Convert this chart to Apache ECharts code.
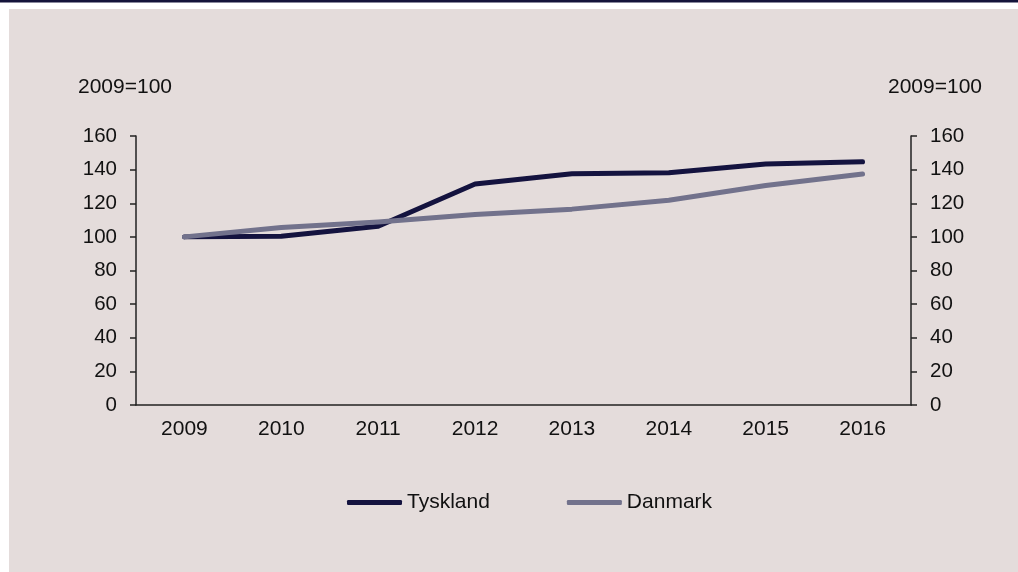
<!DOCTYPE html>
<html>
<head>
<meta charset="utf-8">
<script src="https://cdn.jsdelivr.net/npm/echarts@6/dist/echarts.min.js"></script>
<style>
html,body{margin:0;padding:0;background:#ffffff;}
#chart{width:1018px;height:572px;}
</style>
</head>
<body>
<div id="chart"></div>
<script>
const categories = ['2009','2010','2011','2012','2013','2014','2015','2016'];
const tyskland = [100, 100.4, 106.3, 131.5, 137.6, 138.2, 143.3, 144.7];
const danmark = [100, 105.6, 108.9, 113.3, 116.5, 121.8, 130.6, 137.4];
const seriesNames = ['Tyskland', 'Danmark'];
const unitLabel = '2009=100';

const txt = '#111111';
const font = 'Liberation Sans, Arial, Helvetica, sans-serif';
const chart = echarts.init(document.getElementById('chart'));
chart.setOption({
  animation: false,
  backgroundColor: '#ffffff',
  textStyle: {fontFamily: font},
  graphic: [
    {type: 'rect', z: -10, shape: {x: 0, y: 0, width: 1018, height: 2.5}, style: {fill: '#14133a'}},
    {type: 'rect', z: -10, shape: {x: 9, y: 9, width: 1009, height: 563}, style: {fill: '#e4dcdb'}},
    {type: 'text', left: 78, top: 77, style: {text: unitLabel, fill: txt, font: '21px ' + font}},
    {type: 'text', left: 888, top: 77, style: {text: unitLabel, fill: txt, font: '21px ' + font}}
  ],
  grid: {left: 136, right: 107, top: 136, bottom: 167},
  legend: {
    left: 347, top: 492, padding: 0,
    itemWidth: 55, itemHeight: 5, itemGap: 77,
    icon: 'roundRect',
    textStyle: {fontSize: 21, color: txt, fontFamily: font},
    data: seriesNames
  },
  xAxis: {
    type: 'category',
    data: categories,
    boundaryGap: true,
    axisLine: {lineStyle: {color: '#222222', width: 1.5}},
    axisTick: {show: false},
    axisLabel: {color: txt, fontSize: 21, margin: 14, fontFamily: font}
  },
  yAxis: [
    {
      type: 'value', min: 0, max: 160, interval: 20, position: 'left',
      axisLine: {show: true, lineStyle: {color: '#222222', width: 1.5}},
      axisTick: {show: true, length: 6, lineStyle: {color: '#222222', width: 1.5}},
      axisLabel: {color: txt, fontSize: 20.5, margin: 19, fontFamily: font},
      splitLine: {show: false}
    },
    {
      type: 'value', min: 0, max: 160, interval: 20, position: 'right',
      axisLine: {show: true, lineStyle: {color: '#222222', width: 1.5}},
      axisTick: {show: true, length: 6, lineStyle: {color: '#222222', width: 1.5}},
      axisLabel: {color: txt, fontSize: 20.5, margin: 19, fontFamily: font},
      splitLine: {show: false}
    }
  ],
  series: [
    {
      name: seriesNames[0], type: 'line', data: tyskland, yAxisIndex: 0,
      symbol: 'none', color: '#14133f',
      lineStyle: {width: 5, cap: 'round', join: 'round', color: '#14133f'}
    },
    {
      name: seriesNames[1], type: 'line', data: danmark, yAxisIndex: 0,
      symbol: 'none', color: '#72728c',
      lineStyle: {width: 5, cap: 'round', join: 'round', color: '#72728c'}
    }
  ]
});
</script>
</body>
</html>
